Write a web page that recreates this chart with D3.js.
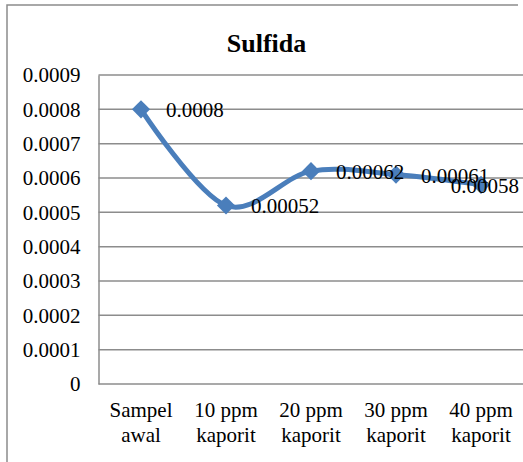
<!DOCTYPE html>
<html>
<head>
<meta charset="utf-8">
<script src="https://cdn.jsdelivr.net/npm/d3@7"></script>
<style>
  html, body { margin: 0; padding: 0; background: #fff; }
  svg { display: block; }
</style>
</head>
<body>
<svg id="chart" width="523" height="462"></svg>
<script>
// Sulfida concentration per treatment
const categories = [["Sampel", "awal"], ["10 ppm", "kaporit"], ["20 ppm", "kaporit"], ["30 ppm", "kaporit"], ["40 ppm", "kaporit"]];
const values = [0.0008, 0.00052, 0.00062, 0.00061, 0.00058];
const valueLabels = ["0.0008", "0.00052", "0.00062", "0.00061", "0.00058"];
const yTicks = [0, 0.0001, 0.0002, 0.0003, 0.0004, 0.0005, 0.0006, 0.0007, 0.0008, 0.0009];
const yTickLabels = ["0", "0.0001", "0.0002", "0.0003", "0.0004", "0.0005", "0.0006", "0.0007", "0.0008", "0.0009"];
const title = "Sulfida";

const W = 523, H = 462;
const plot = { left: 98.5, top: 75, right: 523.5, bottom: 384 };
const lineColor = "#4a7ebb";
const gridColor = "#8c8c8c";
const serif = '"Liberation Serif", "Times New Roman", serif';

const svg = d3.select("#chart");

// outer chart frame (left and top edges)
svg.append("path")
  .attr("d", `M7,${H} L7,5 L518,5`)
  .attr("fill", "none")
  .attr("stroke", gridColor)
  .attr("stroke-width", 1.5);

const x = d3.scaleBand()
  .domain(categories.map((c, i) => i))
  .range([plot.left, plot.right])
  .paddingInner(0).paddingOuter(0);
const cx = i => x(i) + x.bandwidth() / 2;

const y = d3.scaleLinear()
  .domain([0, 0.0009])
  .range([plot.bottom, plot.top]);

// gridlines
svg.append("g")
  .selectAll("line")
  .data(yTicks)
  .join("line")
  .attr("x1", plot.left)
  .attr("x2", W)
  .attr("y1", d => y(d))
  .attr("y2", d => y(d))
  .attr("stroke", gridColor)
  .attr("stroke-width", 1.5);

// vertical axis line + tick labels
const yAxis = d3.axisLeft(y)
  .tickValues(yTicks)
  .tickFormat((d, i) => yTickLabels[i])
  .tickSize(0)
  .tickPadding(18);
const gy = svg.append("g")
  .attr("transform", `translate(${plot.left},0)`)
  .call(yAxis);
gy.attr("font-family", null).attr("font-size", null);
gy.select(".domain").attr("stroke", gridColor).attr("stroke-width", 1.5);
gy.selectAll("text")
  .style("font-family", serif)
  .style("font-size", "21px")
  .style("fill", "#000");

// category labels (two lines each)
const cat = svg.append("g")
  .selectAll("text")
  .data(categories)
  .join("text")
  .attr("text-anchor", "middle")
  .style("font-family", serif)
  .style("font-size", "21px")
  .style("fill", "#000");
cat.append("tspan")
  .attr("x", (d, i) => cx(i))
  .attr("y", 417)
  .text(d => d[0]);
cat.append("tspan")
  .attr("x", (d, i) => cx(i))
  .attr("y", 442)
  .text(d => d[1]);

// title
svg.append("text")
  .attr("x", 266.5)
  .attr("y", 52)
  .attr("text-anchor", "middle")
  .style("font-family", serif)
  .style("font-size", "26px")
  .style("font-weight", "bold")
  .style("fill", "#000")
  .text(title);

// smoothed series line
const line = d3.line()
  .x((d, i) => cx(i))
  .y(d => y(d))
  .curve(d3.curveCardinal.tension(0));
svg.append("path")
  .datum(values)
  .attr("d", line)
  .attr("fill", "none")
  .attr("stroke", lineColor)
  .attr("stroke-width", 5)
  .attr("stroke-linecap", "round");

// diamond markers
svg.append("g")
  .selectAll("path")
  .data(values)
  .join("path")
  .attr("d", d3.symbol(d3.symbolSquare).size(165))
  .attr("transform", (d, i) => `translate(${cx(i)},${y(d)}) rotate(45)`)
  .attr("fill", lineColor);

// value labels to the right of each point, kept inside the chart edge
svg.append("g")
  .selectAll("text")
  .data(values)
  .join("text")
  .style("font-family", serif)
  .style("font-size", "21px")
  .style("fill", "#000")
  .attr("dominant-baseline", "central")
  .attr("y", d => y(d) + 1)
  .text((d, i) => valueLabels[i])
  .each(function (d, i) {
    const w = this.getComputedTextLength();
    let tx = cx(i) + 25;
    if (tx + w > 519) tx = 519 - w;
    d3.select(this).attr("x", tx);
  });
</script>
</body>
</html>
